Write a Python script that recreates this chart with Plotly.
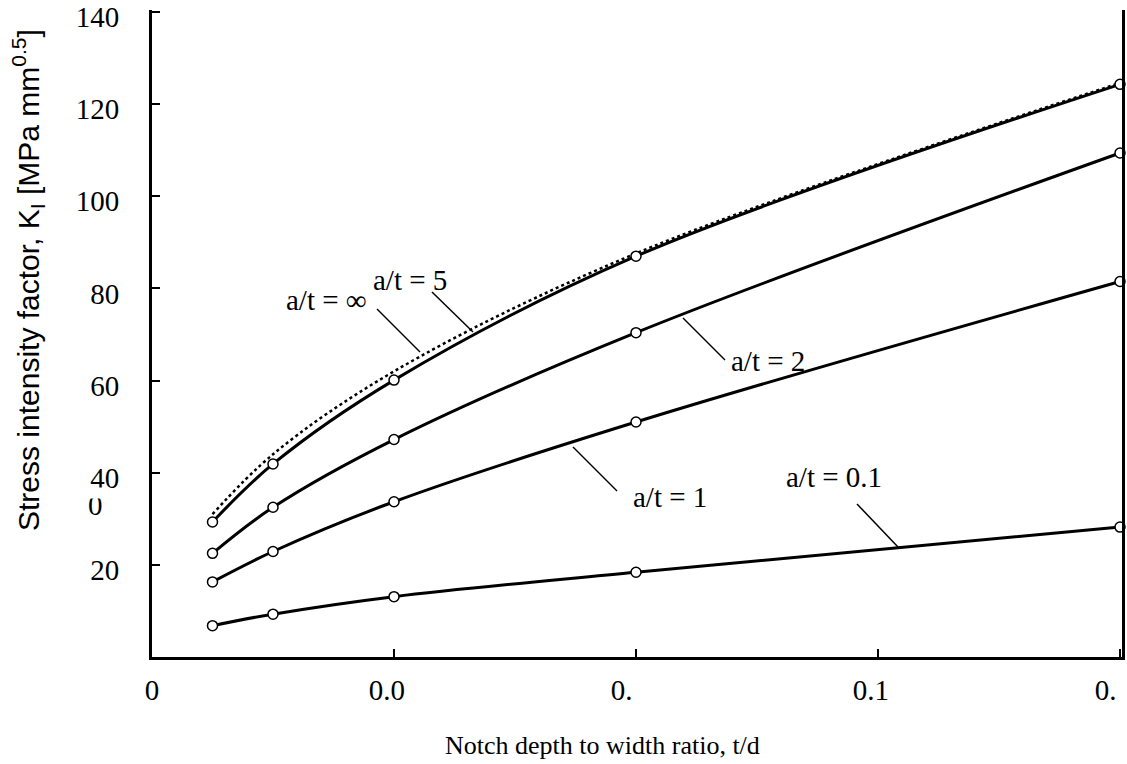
import plotly.graph_objects as go

# ---- data ----
td = [0.0125, 0.025, 0.05, 0.1, 0.2]
k_inf = [31.0, 44.0, 62.0, 87.6, 124.6]
k_5 = [29.3, 41.9, 60.1, 87.0, 124.3]
k_2 = [22.5, 32.5, 47.2, 70.4, 109.4]
k_1 = [16.3, 22.9, 33.7, 51.0, 81.5]
k_01 = [6.8, 9.3, 13.1, 18.4, 28.2]

x_tickvals = [0, 0.05, 0.1, 0.15, 0.2]
x_ticktext = ["0", "0.0\u2002", "0.\u2002\u2002", "0.1\u2002", "0.\u2002\u2002"]
y_tickvals = [20, 40, 60, 80, 100, 120, 140]
y_ticktext = ["20", "40", "60", "80", "100", "120", "140"]

# pixel geometry of the plot area (for converting label positions)
W, H = 1127, 764
L, R, T, B = 152, 1122, 10, 657
XR = [0, 0.2 * 970 / 968]
YR = [0, 140 * 647 / 645]


def px2x(px):
    return XR[0] + (px - L) / (R - L) * (XR[1] - XR[0])


def px2y(py):
    return YR[0] + (B - py) / (B - T) * (YR[1] - YR[0])


serif = "Liberation Serif, Times New Roman, serif"
sans = "Liberation Sans, Arial, sans-serif"
FS = 29

fig = go.Figure()

fig.add_trace(go.Scatter(x=td, y=k_inf, mode="lines",
                         line=dict(color="black", width=2.5, dash="dot", shape="spline"),
                         showlegend=False, cliponaxis=False))
for ys in [k_5, k_2, k_1, k_01]:
    fig.add_trace(go.Scatter(x=td, y=ys, mode="lines+markers",
                             line=dict(color="black", width=3, shape="spline"),
                             marker=dict(symbol="circle", size=10, color="white",
                                         line=dict(color="black", width=1.5)),
                             showlegend=False, cliponaxis=False))

# labels with leader lines (pixel positions)
labels = [
    ("a/t = \u221e", 326, 300, (377, 309, 420, 352)),
    ("a/t = 5", 410, 280, (432, 292, 473, 332)),
    ("a/t = 2", 768, 361, (683, 318, 725, 360)),
    ("a/t = 1", 670, 497, (573, 447, 617, 491)),
    ("a/t = 0.1", 834, 477, (857, 504, 898, 547)),
]
for txt, cx, cy, (x0, y0, x1, y1) in labels:
    fig.add_annotation(x=px2x(cx), y=px2y(cy), text=txt, showarrow=False,
                       font=dict(family=serif, size=FS, color="black"),
                       xanchor="center", yanchor="middle")
    fig.add_shape(type="line", x0=px2x(x0), y0=px2y(y0), x1=px2x(x1), y1=px2y(y1),
                  line=dict(color="black", width=1.5))

# y-axis title
fig.add_annotation(xref="paper", yref="paper",
                   x=(28 - L) / (R - L), y=(B - 280) / (B - T),
                   text="Stress intensity factor, K<sub>I</sub> [MPa mm<sup>0.5</sup>]",
                   textangle=-90, showarrow=False,
                   font=dict(family=sans, size=30, color="black"),
                   xanchor="center", yanchor="middle")

# x-axis title
fig.add_annotation(xref="paper", yref="paper",
                   x=(443 - L) / (R - L), y=(B - 745) / (B - T),
                   text="Notch depth to width ratio, t/d", showarrow=False,
                   font=dict(family=serif, size=26, color="black"),
                   xanchor="left", yanchor="middle")

# stray clipped "0" under the 40 label (top part hidden by a white box)
fig.add_annotation(xref="paper", yref="paper",
                   x=(95 - L) / (R - L), y=(B - 505) / (B - T),
                   text="0", showarrow=False,
                   font=dict(family=serif, size=FS, color="black"),
                   xanchor="center", yanchor="middle")
fig.add_annotation(xref="paper", yref="paper",
                   x=(95 - L) / (R - L), y=(B - 493) / (B - T),
                   text="\u2588\u2588", showarrow=False, width=26, height=10,
                   bgcolor="white", borderpad=0,
                   font=dict(size=8, color="white"),
                   xanchor="center", yanchor="middle")

fig.update_layout(
    width=W, height=H,
    margin=dict(l=L, r=W - R, t=T, b=H - B, autoexpand=False),
    paper_bgcolor="white", plot_bgcolor="white",
    xaxis=dict(range=XR, tickvals=x_tickvals, ticktext=x_ticktext,
               ticks="inside", ticklen=8, tickwidth=2, tickcolor="black",
               showline=True, linewidth=3, linecolor="black",
               showgrid=False, zeroline=False, automargin=False,
               tickfont=dict(family=serif, size=FS, color="black"),
               ticklabelstandoff=5, ticklabeloverflow="allow"),
    yaxis=dict(range=YR, tickvals=y_tickvals, ticktext=y_ticktext,
               ticks="inside", ticklen=8, tickwidth=2, tickcolor="black",
               showline=True, linewidth=3, linecolor="black", mirror=True,
               showgrid=False, zeroline=False, automargin=False,
               tickfont=dict(family=serif, size=FS, color="black"),
               ticklabelstandoff=24, ticklabelshift=5, ticklabeloverflow="allow"),
)

fig.write_html("out.html")
